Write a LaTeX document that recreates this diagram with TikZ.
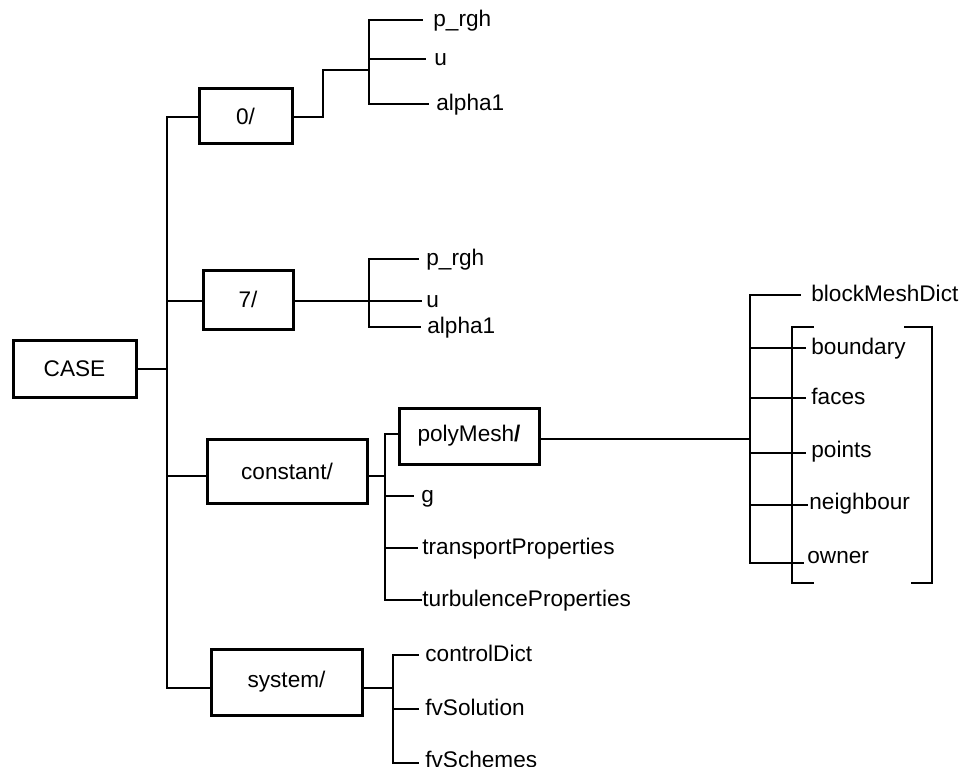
\documentclass[tikz,border=0pt]{standalone}
\usepackage{fontspec}
\setmainfont{Liberation Sans}
\begin{document}
\begin{tikzpicture}[x=1pt,y=-1pt,
  line width=2.8pt, line cap=rect,
  dirbox/.style={draw, line width=3pt, rectangle, inner sep=0pt, font=\fontsize{22.6}{26}\selectfont},
  lbl/.style={anchor=west, inner sep=0pt, yshift=-3.5pt, text height=1.5ex, text depth=0.25ex, font=\fontsize{22.6}{26}\selectfont}]
\useasboundingbox (0,0) rectangle (968,767);

% directory boxes
\node[dirbox, minimum width=123pt, minimum height=57pt] (case) at (74.5,368.5) {CASE};
\node[dirbox, minimum width=93pt, minimum height=55pt] (b0) at (245.5,116.5) {0/};
\node[dirbox, minimum width=90pt, minimum height=59pt] (b7) at (248,299.5) {7/};
\node[dirbox, minimum width=160pt, minimum height=64pt] (bconst) at (287,471) {constant/};
\node[dirbox, minimum width=151pt, minimum height=66pt] (bsys) at (286.5,682) {system/};
\node[dirbox, minimum width=140pt, minimum height=56pt] (bpoly) at (469,436) {polyMesh\textbf{/}};

% trunk
\coordinate (t0) at (167,117);
\coordinate (t7) at (167,301);
\coordinate (tc) at (167,369);
\coordinate (tk) at (167,476);
\coordinate (ts) at (167,688);
\draw (b0.west |- t0) -- (t0) -- (ts) -- (bsys.west |- ts);
\draw (case.east |- tc) -- (tc);
\draw (t7) -- (b7.west |- t7);
\draw (tk) -- (bconst.west |- tk);

% 0/ group
\node[lbl] (a1) at (432,20) {p\_rgh};
\node[lbl] (a2) at (433,59) {u};
\node[lbl] (a3) at (435,104) {alpha1};
\coordinate (a0) at (323,117);
\draw (b0.east |- a0) -- (a0) -- (323,70) -- (369,70);
\draw (369,20) -- (369,104);
\draw (369,20) -- ([xshift=-10pt]a1.west |- 369,20);
\draw (369,59) -- ([xshift=-8pt]a2.west |- 369,59);
\draw (369,104) -- ([xshift=-7pt]a3.west |- 369,104);

% 7/ group
\node[lbl] (c1) at (425,259) {p\_rgh};
\node[lbl] (c2) at (425,301) {u};
\node[lbl] (c3) at (426,327) {alpha1};
\coordinate (c0) at (369,301);
\draw (b7.east |- c0) -- (c0);
\draw (369,259) -- (369,327);
\draw (369,259) -- ([xshift=-7pt]c1.west |- 369,259);
\draw (369,301) -- ([xshift=-4pt]c2.west |- 369,301);
\draw (369,327) -- ([xshift=-6pt]c3.west |- 369,327);

% constant/ group
\node[lbl] (k2) at (420,496) {g};
\node[lbl] (k3) at (421,548) {transportProperties};
\node[lbl] (k4) at (421,600) {turbulenceProperties};
\coordinate (k0) at (385,476);
\draw (bconst.east |- k0) -- (k0);
\draw (385,434) -- (385,600);
\draw (385,434) -- (bpoly.west |- 385,434);
\draw (385,496) -- ([xshift=-7pt]k2.west |- 385,496);
\draw (385,548) -- ([xshift=-4pt]k3.west |- 385,548);
\draw (385,600) -- (k4.west |- 385,600);

% polyMesh group
\coordinate (p0) at (750,439);
\draw (bpoly.east |- p0) -- (p0);
\draw (750,295) -- (750,563);
\node[lbl] (m1) at (810,295) {blockMeshDict};
\node[lbl] (m2) at (810,348) {boundary};
\node[lbl] (m3) at (810,398) {faces};
\node[lbl] (m4) at (810,451) {points};
\node[lbl] (m5) at (808,503) {neighbour};
\node[lbl] (m6) at (806,557) {owner};
\draw (750,295) -- ([xshift=-10pt]m1.west |- 750,295);
\draw (750,348) -- ([xshift=-5pt]m2.west |- 750,348);
\draw (750,398) -- ([xshift=-5pt]m3.west |- 750,398);
\draw (750,453) -- ([xshift=-5pt]m4.west |- 750,453);
\draw (750,505) -- ([xshift=-1pt]m5.west |- 750,505);
\draw (750,563) -- ([xshift=-3pt]m6.west |- 750,563);
% brackets
\draw (813,327) -- (792,327) -- (792,583) -- (813,583);
\draw (905,327) -- (932,327) -- (932,583) -- (912,583);

% system/ group
\node[lbl] (s1) at (424,655) {controlDict};
\node[lbl] (s2) at (424,709) {fvSolution};
\node[lbl, yshift=2pt] (s3) at (424,763) {fvSchemes};
\coordinate (s0) at (393,688);
\draw (bsys.east |- s0) -- (s0);
\draw (393,655) -- (393,763);
\draw (393,655) -- ([xshift=-6pt]s1.west |- 393,655);
\draw (393,709) -- ([xshift=-6pt]s2.west |- 393,709);
\draw (393,763) -- ([xshift=-6pt]s3.west |- 393,763);
\end{tikzpicture}
\end{document}
